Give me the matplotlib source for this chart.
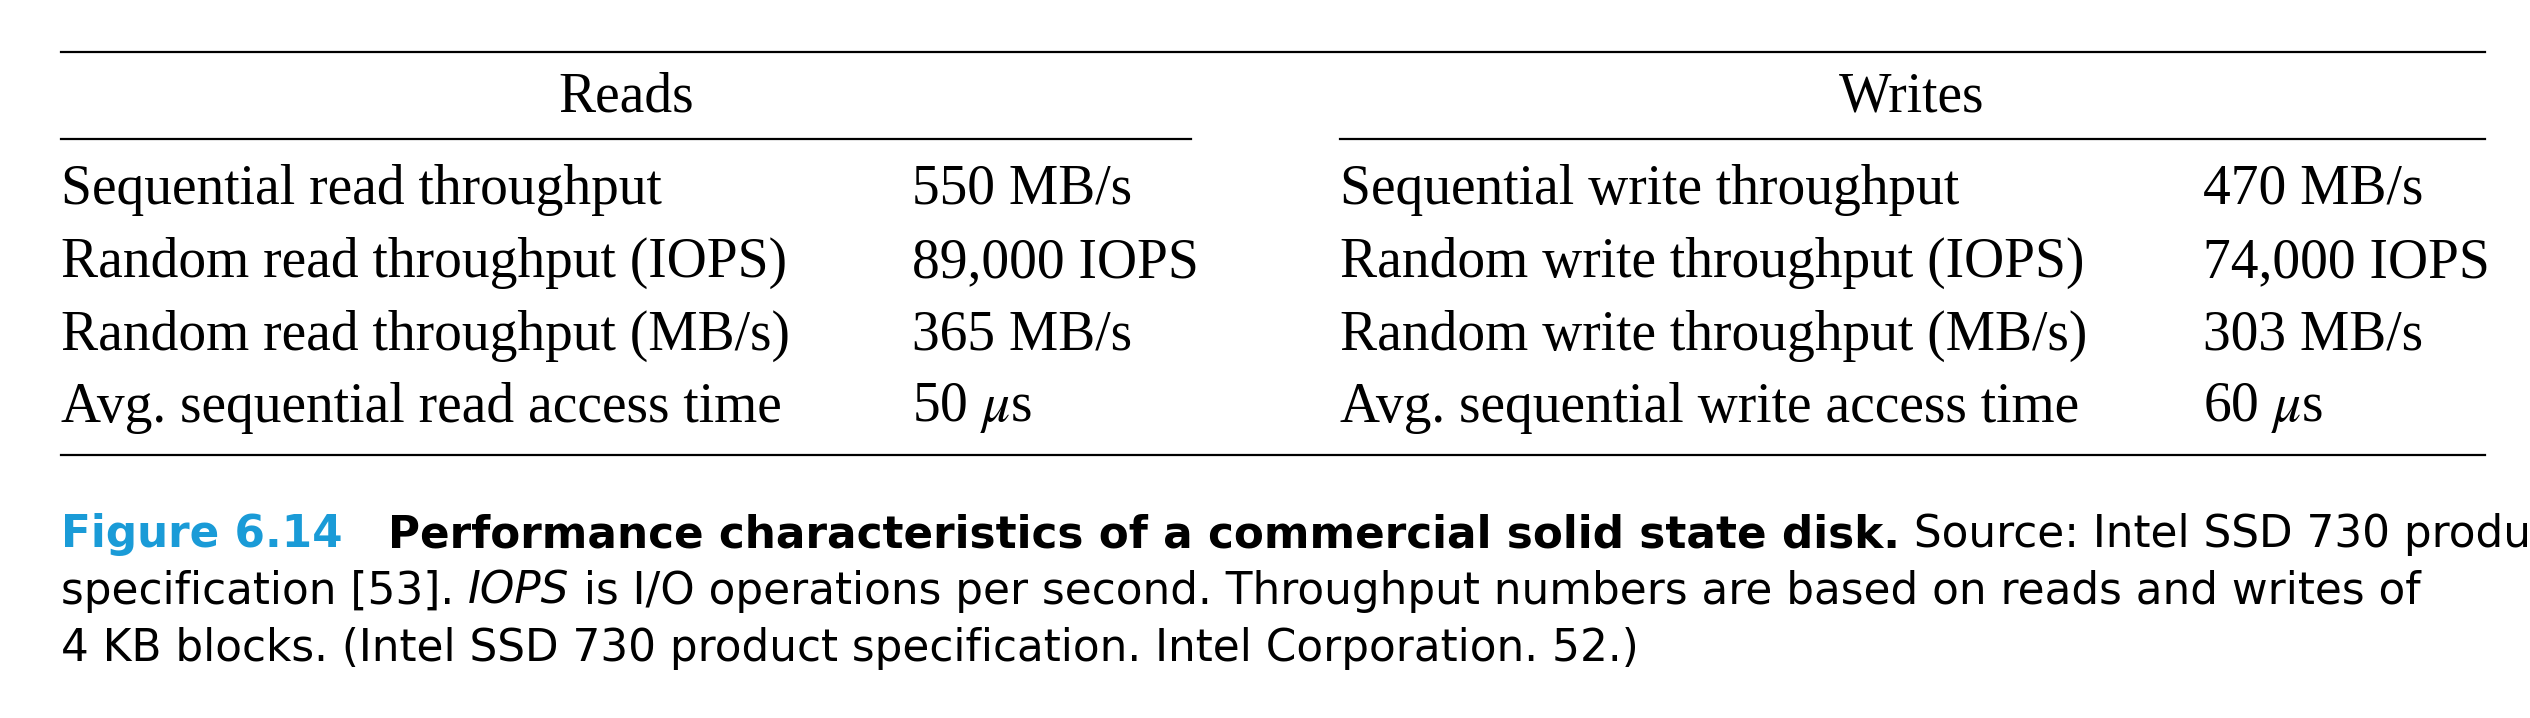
import matplotlib.pyplot as plt
from matplotlib.lines import Line2D

W, H = 2530, 718

read_labels = ["Sequential read throughput", "Random read throughput (IOPS)",
               "Random read throughput (MB/s)", "Avg. sequential read access time"]
read_values = ["550 MB/s", "89,000 IOPS", "365 MB/s", "50 $\\mu$s"]
write_labels = ["Sequential write throughput", "Random write throughput (IOPS)",
                "Random write throughput (MB/s)", "Avg. sequential write access time"]
write_values = ["470 MB/s", "74,000 IOPS", "303 MB/s", "60 $\\mu$s"]

plt.rcParams['mathtext.fontset'] = 'stix'
fig = plt.figure(figsize=(W / 100, H / 100), dpi=100)

def fx(x):
    return x / W

def fy(y):
    return 1 - y / H

def hline(x0, x1, y, lw=1.6):
    fig.add_artist(Line2D([fx(x0), fx(x1)], [fy(y), fy(y)], color='black', lw=lw))

serif = dict(family='Liberation Serif', fontsize=40, va='center')

hline(61, 2485, 52)
hline(61, 1191, 139)
hline(1340, 2485, 139)
hline(61, 2485, 455)

fig.text(fx(626), fy(97), "Reads", ha='center', **serif)
fig.text(fx(1912), fy(97), "Writes", ha='center', **serif)

row_y = [190, 263, 336, 408]
for y, a, b, c, d in zip(row_y, read_labels, read_values, write_labels, write_values):
    fig.text(fx(61), fy(y), a, ha='left', **serif)
    fig.text(fx(912), fy(y), b, ha='left', **serif)
    fig.text(fx(1340), fy(y), c, ha='left', **serif)
    fig.text(fx(2203), fy(y), d, ha='left', **serif)

# caption, pieces chained left to right
cap = dict(family='DejaVu Sans', fontsize=31.5)

def chain(pieces, x, y):
    last = None
    for txt, kw in pieces:
        style = dict(cap)
        style.update(kw)
        if last is None:
            last = fig.text(fx(x), fy(y), txt, ha='left', va='bottom', **style)
        else:
            last = fig.add_artist(plt.Annotation(txt, xy=(1, 0), xycoords=last,
                                                 ha='left', va='bottom', **style))

chain([("Figure 6.14   ", dict(color='#1a9bd7', fontweight='bold')),
       ("Performance characteristics of a commercial solid state disk.", dict(fontweight='bold')),
       (" Source: Intel SSD 730 product", {})], 61, 556)
chain([("specification [53]. ", {}), ("IOPS", dict(style='italic')),
       (" is I/O operations per second. Throughput numbers are based on reads and writes of", {})],
      61, 613)
chain([("4 KB blocks. (Intel SSD 730 product specification. Intel Corporation. 52.)", {})],
      61, 670)

fig.savefig("out.png", dpi=100)
